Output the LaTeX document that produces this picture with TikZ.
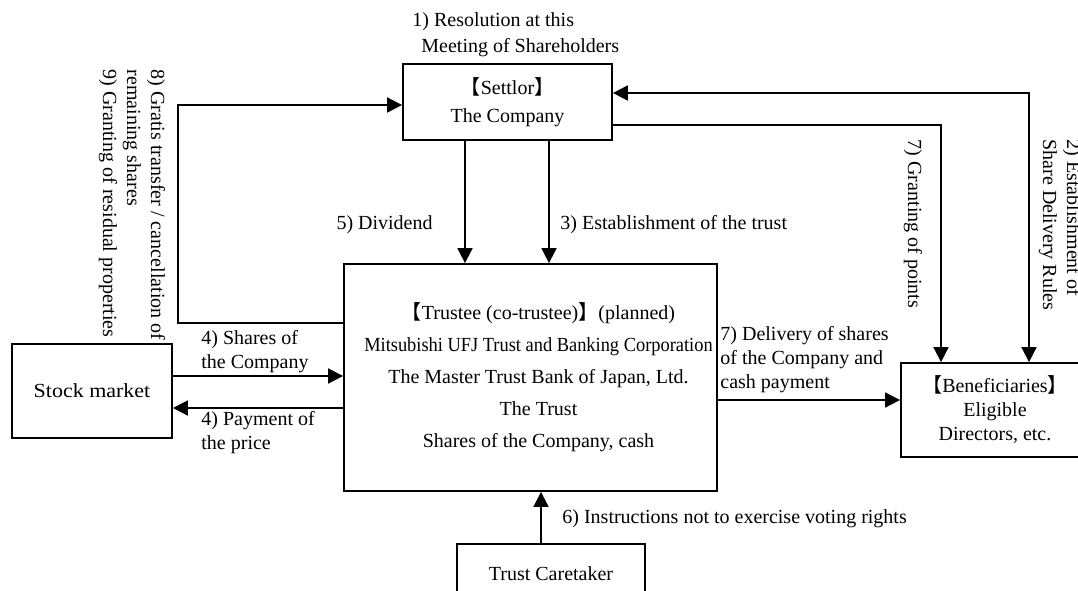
\documentclass[tikz,border=0pt]{standalone}
\usepackage{fontspec}
\setmainfont{Liberation Serif}
\newfontfamily\cjk{Noto Sans CJK JP}
\usetikzlibrary{arrows.meta}
\newcommand{\lbr}{{\cjk 【}}
\newcommand{\rbr}{{\cjk 】}}
\begin{document}
\begin{tikzpicture}[x=0.5pt,y=-0.5pt,
  box/.style={draw,line width=0.9pt,rectangle,inner sep=0pt,align=center,font=\fontsize{10}{12}\selectfont},
  arr/.style={line width=0.9pt,-{Triangle[length=7.5pt,width=7.5pt]}},
  arrboth/.style={line width=0.9pt,{Triangle[length=7.5pt,width=7.5pt]}-{Triangle[length=7.5pt,width=7.5pt]}},
  lab/.style={inner sep=0pt,font=\fontsize{10}{12}\selectfont}]
\useasboundingbox (0,0) rectangle (1078,590);
\clip (0,0) rectangle (1078,590);
% boxes
\node[box,minimum width=104.5pt,minimum height=38pt,font=\fontsize{10}{14}\selectfont] (settlor) at (507.5,102) {\lbr Settlor\rbr\\The Company};
\node[box,minimum width=186.5pt,minimum height=113.5pt,font=\fontsize{10}{16}\selectfont] (trustee) at (530.5,377.5)
  {\hspace*{8pt}\lbr Trustee (co-trustee)\rbr(planned)\\\hspace*{8pt}\scalebox{0.92}[1]{Mitsubishi UFJ Trust and Banking Corporation}\\\hspace*{8pt}The Master Trust Bank of Japan, Ltd.\\\hspace*{8pt}The Trust\\\hspace*{8pt}Shares of the Company, cash};
\node[box,minimum width=80pt,minimum height=47pt] (stock) at (92,391) {\scalebox{1.1}[1]{Stock market}};
\node[box,minimum width=94pt,minimum height=47pt] (benef) at (995,410) {\lbr Beneficiaries\rbr\\Eligible\\Directors, etc.};
\node[box,minimum width=94pt,minimum height=30pt] (caretaker) at (551,574) {Trust Caretaker};
% coordinates
\coordinate (c8) at (178,323);
\coordinate (c8b) at (178,105);
\coordinate (x5) at (465,0);
\coordinate (x3) at (549,0);
\coordinate (g7) at (941,125);
\coordinate (e2) at (1029,93);
\coordinate (s1) at (0,376);
\coordinate (s2) at (0,408);
\coordinate (d7) at (0,400);
\coordinate (c6) at (541,0);
% connectors
\draw[arr] (trustee.west |- c8) -- (c8) -- (c8b) -- (settlor.west |- c8b);
\draw[arr] (settlor.south -| x5) -- (trustee.north -| x5);
\draw[arr] (settlor.south -| x3) -- (trustee.north -| x3);
\draw[arr] (settlor.east |- g7) -- (g7) -- (benef.north -| g7);
\draw[arrboth] (settlor.east |- e2) -- (e2) -- (benef.north -| e2);
\draw[arr] (stock.east |- s1) -- (trustee.west |- s1);
\draw[arr] (trustee.west |- s2) -- (stock.east |- s2);
\draw[arr] (trustee.east |- d7) -- (benef.west |- d7);
\draw[arr] (caretaker.north -| c6) -- (trustee.south -| c6);
% labels
\node[lab,anchor=west,align=left,font=\fontsize{10}{13}\selectfont] (l1) at (412,35) {1) Resolution at this\\\hspace*{4.5pt}Meeting of Shareholders};
\node[lab,anchor=east] (l5) at (433,225) {5) Dividend};
\node[lab,anchor=west] (l3) at (560,225) {3) Establishment of the trust};
\node[lab,rotate=-90] (l7) at (913,224) {7) Granting of points};
\node[lab,rotate=-90,align=left] (l2) at (1060,225) {2) Establishment of\\Share Delivery Rules};
\node[lab,rotate=-90,align=left] (l8) at (132,205) {8) Gratis transfer / cancellation of\\remaining shares\\9) Granting of residual properties};
\node[lab,anchor=west,align=left] (l4a) at (201,352) {4) Shares of\\the Company};
\node[lab,anchor=west,align=left] (l4b) at (201,433) {4) Payment of\\the price};
\node[lab,anchor=west,align=left] (l7d) at (720,360) {7) Delivery of shares\\of the Company and\\cash payment};
\node[lab,anchor=west] (l6) at (562,519) {6) Instructions not to exercise voting rights};
\end{tikzpicture}
\end{document}
